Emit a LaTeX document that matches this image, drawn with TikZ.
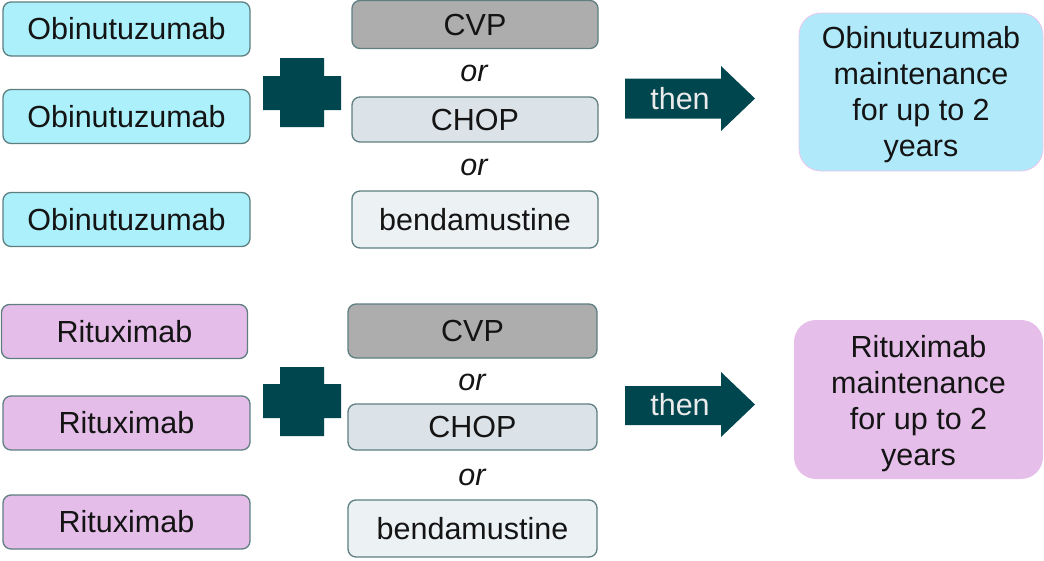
\documentclass[tikz,border=0pt]{standalone}
\usepackage{fontspec}
\setmainfont{Liberation Sans}
\definecolor{obifill}{HTML}{ABF0FB}
\definecolor{ritfill}{HTML}{E5BDE9}
\definecolor{boxline}{HTML}{5E7E80}
\definecolor{cvpfill}{HTML}{ADADAD}
\definecolor{chopfill}{HTML}{DCE3E8}
\definecolor{bendfill}{HTML}{ECF1F3}
\definecolor{darkteal}{HTML}{00464F}
\definecolor{maintobi}{HTML}{B0E9FA}
\definecolor{maintobiline}{HTML}{ECC6EC}
\definecolor{maintrit}{HTML}{E6BEEA}
\definecolor{textcol}{HTML}{141414}
\begin{document}
\begin{tikzpicture}[x=1pt,y=-1pt,
  box/.style={draw=boxline, line width=1.3pt, rounded corners=8pt, inner sep=0pt,
    font=\fontsize{30.5}{36}\selectfont, text=textcol},
  obibox/.style={box, fill=obifill, minimum width=247pt, minimum height=54pt},
  ritbox/.style={box, fill=ritfill, minimum width=246pt, minimum height=54pt},
  cvpbox/.style={box, fill=cvpfill},
  chopbox/.style={box, fill=chopfill},
  bendbox/.style={box, fill=bendfill},
  ortext/.style={font=\fontsize{30.5}{36}\selectfont\itshape, text=textcol, inner sep=0pt},
  maint/.style={rounded corners=22pt, inner sep=0pt},
  mainttext/.style={inner sep=0pt, align=center,
    font=\fontsize{30.5}{36}\selectfont, text=textcol},
  thentext/.style={font=\fontsize{30.5}{36}\selectfont, text=white!92!black, inner sep=0pt},
]
\useasboundingbox (0,0) rectangle (1044,560);

% ---- obinutuzumab regimen ----
\node[obibox] (o1) at (126.5,29) {Obinutuzumab};
\node[obibox] (o2) at (126.5,116.5) {Obinutuzumab};
\node[obibox] (o3) at (126.5,219.5) {Obinutuzumab};

\fill[darkteal] (280,58) -- (324,58) -- (324,76) -- (341,76) -- (341,110) -- (324,110)
  -- (324,127) -- (280,127) -- (280,110) -- (263,110) -- (263,76) -- (280,76) -- cycle;

\node[cvpbox, minimum width=246pt, minimum height=48pt] (c1) at (475,24.5) {CVP};
\node[ortext] (or1) at (474,73) {or};
\node[chopbox, minimum width=246pt, minimum height=45pt] (h1) at (475,119.5) {CHOP};
\node[ortext] (or2) at (474,167) {or};
\node[bendbox, minimum width=246pt, minimum height=57pt] (b1) at (475,219.5) {bendamustine};

\fill[darkteal] (625,78.5) -- (721,78.5) -- (721,66) -- (755,98.5) -- (721,131)
  -- (721,118.5) -- (625,118.5) -- cycle;
\node[thentext] (t1) at (680,98.5) {then};

\node[maint, fill=maintobi, draw=maintobiline, line width=0.8pt,
  minimum width=244pt, minimum height=158pt] (m1) at (921,92) {};
\node[mainttext] (m1t) at ([yshift=-3pt]m1.center)
  {Obinutuzumab\\maintenance\\for up to 2\\years};

% ---- rituximab regimen ----
\node[ritbox] (r1) at (124.5,331.5) {Rituximab};
\node[ritbox, minimum width=247pt] (r2) at (126.5,423) {Rituximab};
\node[ritbox, minimum width=247pt] (r3) at (126.5,522) {Rituximab};

\fill[darkteal] (280,367) -- (324,367) -- (324,384) -- (341,384) -- (341,418) -- (324,418)
  -- (324,436) -- (280,436) -- (280,418) -- (263,418) -- (263,384) -- (280,384) -- cycle;

\node[cvpbox, minimum width=249pt, minimum height=54pt] (c2) at (472.5,331) {CVP};
\node[ortext] (or3) at (472,382) {or};
\node[chopbox, minimum width=249pt, minimum height=46pt] (h2) at (472.5,427) {CHOP};
\node[ortext] (or4) at (472,477) {or};
\node[bendbox, minimum width=249pt, minimum height=57pt] (b2) at (472.5,528.5) {bendamustine};

\fill[darkteal] (625,386) -- (721,386) -- (721,372) -- (755,404.5) -- (721,437)
  -- (721,425) -- (625,425) -- cycle;
\node[thentext] (t2) at (680,405) {then};

\node[maint, fill=maintrit, minimum width=249pt, minimum height=159pt] (m2) at (918.5,399.5) {};
\node[mainttext] (m2t) at ([yshift=-4pt]m2.center)
  {Rituximab\\maintenance\\for up to 2\\years};
\end{tikzpicture}
\end{document}
